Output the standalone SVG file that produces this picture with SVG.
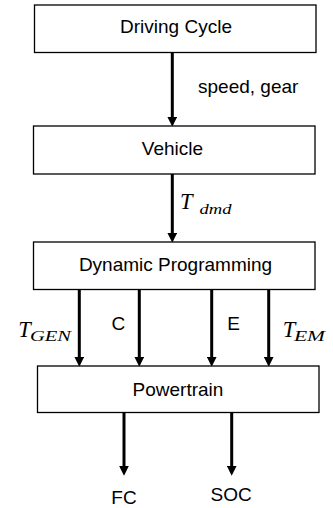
<svg xmlns="http://www.w3.org/2000/svg" width="333" height="508" viewBox="0 0 333 508">
<style>
.box{fill:#fff;stroke:#000;stroke-width:1.3}
.lbl{font-family:"Liberation Sans",Arial,sans-serif;font-size:19px;fill:#000}
.c{text-anchor:middle}
.m{font-family:"Liberation Serif","Times New Roman",serif;font-style:italic;fill:#000}
.edge{stroke:#000;stroke-width:3;fill:none}
</style>
<defs>
<marker id="ah" markerUnits="userSpaceOnUse" markerWidth="10" markerHeight="10" viewBox="0 0 9 9" refX="3" refY="4.5" orient="auto">
<path d="M0,0 L9,4.5 L0,9 z" fill="#000"/>
</marker>
</defs>
<rect width="333" height="508" fill="#fff"/>
<g id="connectors">
<line class="edge" x1="172.3" y1="52" x2="172.3" y2="120" marker-end="url(#ah)"/>
<line class="edge" x1="172.3" y1="174" x2="172.3" y2="236" marker-end="url(#ah)"/>
<line class="edge" x1="79.3" y1="290" x2="79.3" y2="360" marker-end="url(#ah)"/>
<line class="edge" x1="139.3" y1="290" x2="139.3" y2="360" marker-end="url(#ah)"/>
<line class="edge" x1="211.7" y1="290" x2="211.7" y2="360" marker-end="url(#ah)"/>
<line class="edge" x1="268.7" y1="290" x2="268.7" y2="360" marker-end="url(#ah)"/>
<line class="edge" x1="124" y1="412" x2="124" y2="469" marker-end="url(#ah)"/>
<line class="edge" x1="231.7" y1="412" x2="231.7" y2="469" marker-end="url(#ah)"/>
<text class="lbl" x="198" y="93">speed, gear</text>
<text class="m" x="180" y="209" font-size="22.5">T</text>
<text class="m" x="199.5" y="213.5" font-size="15" textLength="32" lengthAdjust="spacingAndGlyphs">dmd</text>
<text class="m" x="18.3" y="336.7" font-size="22.5">T</text>
<text class="m" x="30" y="340.5" font-size="15" textLength="41" lengthAdjust="spacingAndGlyphs">GEN</text>
<text class="lbl c" x="118.3" y="330">C</text>
<text class="lbl c" x="233.7" y="330">E</text>
<text class="m" x="282.7" y="336.7" font-size="22.5">T</text>
<text class="m" x="294" y="340.5" font-size="15" textLength="31" lengthAdjust="spacingAndGlyphs">EM</text>
<text class="lbl c" x="124" y="504" font-size="17">FC</text>
<text class="lbl c" x="231.2" y="500.5" font-size="17">SOC</text>
</g>
<g id="driving-cycle">
<rect class="box" x="34.5" y="5" width="281.5" height="47.5"/>
<text class="lbl c" x="176" y="33">Driving Cycle</text>
</g>
<g id="vehicle">
<rect class="box" x="33.5" y="126" width="281.5" height="48"/>
<text class="lbl c" x="172.5" y="155">Vehicle</text>
</g>
<g id="dynamic-programming">
<rect class="box" x="33.5" y="242" width="281.5" height="47.5"/>
<text class="lbl c" x="175.5" y="270.5">Dynamic Programming</text>
</g>
<g id="powertrain">
<rect class="box" x="37.5" y="366" width="281.5" height="46.5"/>
<text class="lbl c" x="178" y="395.5">Powertrain</text>
</g>
</svg>
